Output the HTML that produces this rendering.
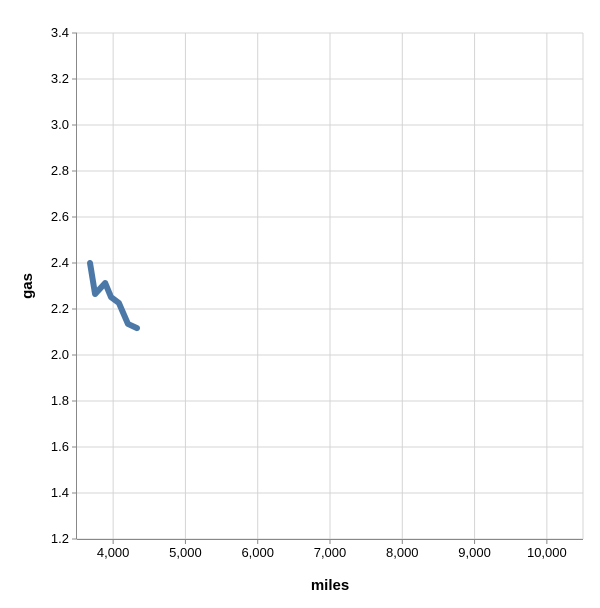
<!DOCTYPE html>
<html><head><meta charset="utf-8"><style>body{margin:0;background:#fff}svg{display:block}text{font-family:"Liberation Sans",sans-serif}</style></head>
<body>
<svg id="c" width="600" height="608"></svg>
<script>
const milesVals=[3680,3750,3890,3970,4080,4205,4330];
const gasVals=[2.40,2.265,2.313,2.252,2.226,2.135,2.117];
const xTicks=[4000,5000,6000,7000,8000,9000,10000];
const yTicks=[1.2,1.4,1.6,1.8,2.0,2.2,2.4,2.6,2.8,3.0,3.2,3.4];
const L=77,T=33,W=506,H=506,xMin=3500,xMax=10500,yMin=1.2,yMax=3.4;
const sx=v=>L+(v-xMin)/(xMax-xMin)*W, sy=v=>T+H-(v-yMin)/(yMax-yMin)*H;
const svg=document.getElementById('c'),NS='http://www.w3.org/2000/svg';
function mk(t,a,p){const e=document.createElementNS(NS,t);for(const k in a)e.setAttribute(k,a[k]);(p||svg).appendChild(e);return e;}
const g=mk('g',{});


xTicks.forEach(v=>{mk('line',{x1:sx(v),x2:sx(v),y1:T,y2:T+H,stroke:'#d4d4d4'},g);
 const t=mk('text',{x:sx(v),y:T+H+18,'text-anchor':'middle','font-size':13,fill:'#000'});t.textContent=v.toLocaleString('en-US');
 
 
 mk('line',{x1:sx(v),x2:sx(v),y1:T+H,y2:T+H+5,stroke:'#888'});});
yTicks.forEach(v=>{mk('line',{x1:L,x2:L+W,y1:sy(v),y2:sy(v),stroke:'#d4d4d4'},g);
 const t=mk('text',{x:L-8,y:sy(v)+4,'text-anchor':'end','font-size':13,fill:'#000'});t.textContent=v.toFixed(1);
 
 
 mk('line',{x1:L-5,x2:L,y1:sy(v),y2:sy(v),stroke:'#888'});});
mk('line',{x1:L+W,x2:L+W,y1:T,y2:T+H,stroke:'#d4d4d4'},g);
mk('line',{x1:L,x2:L+W,y1:T+H+0.5,y2:T+H+0.5,stroke:'#888'});
mk('line',{x1:L-0.5,x2:L-0.5,y1:T,y2:T+H,stroke:'#888'});
const xt=mk('text',{x:L+W/2,y:590,'text-anchor':'middle','font-size':15,'font-weight':'bold'});xt.textContent='miles';


const yt=mk('text',{x:0,y:0,transform:`translate(32,${T+H/2}) rotate(-90)`,'text-anchor':'middle','font-size':15,'font-weight':'bold'});yt.textContent='gas';


const p=mk('path',{d:milesVals.map((m,i)=>(i?'L':'M')+sx(m)+','+sy(gasVals[i])).join(''),fill:'none',stroke:'#4c78a8',"stroke-width":6,"stroke-linejoin":'round',"stroke-linecap":'round'});


</script>
</body></html>
